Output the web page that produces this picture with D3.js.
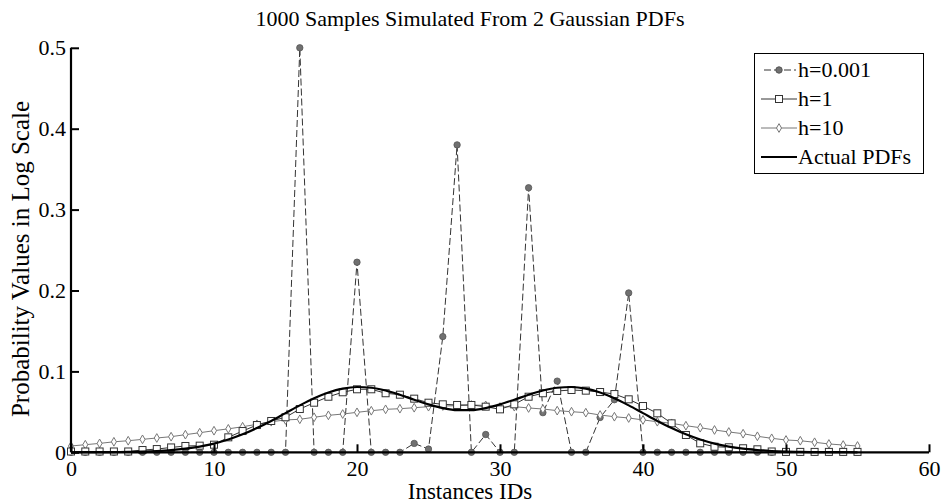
<!DOCTYPE html>
<html><head><meta charset="utf-8">
<script src="https://cdn.jsdelivr.net/npm/d3@7/dist/d3.min.js"></script>
<style>body{margin:0;background:#fff}svg{display:block}text{font-family:"Liberation Serif","Times New Roman","DejaVu Serif",serif !important;fill:#000}</style>
</head><body><svg id="c" width="942" height="504"></svg>
<script>
const title = "1000 Samples Simulated From 2 Gaussian PDFs";
const xLabel = "Instances IDs";
const yLabel = "Probability Values in Log Scale";
const xTicks = [0,10,20,30,40,50,60];
const yTicks = [0,0.1,0.2,0.3,0.4,0.5];
const yTickLabels = ["0","0.1","0.2","0.3","0.4","0.5"];
const ids = d3.range(0,56);
const seriesNames = ["h=0.001","h=1","h=10","Actual PDFs"];
const hSmall = [0,0,0,0,0,0,0,0,0,0,0,0,0,0,0,0,0.5,0,0,0,0.235,0,0,0,0.011,0.004,0.143,0.38,0,0.022,0,0,0.327,0.049,0.088,0,0,0.043,0.065,0.197,0,0,0,0,0,0,0,0,0,0,0,0,0,0,0,0];
const hOne = [0.001,0.001,0.001,0.001,0.001,0.0028,0.004,0.006,0.0078,0.0082,0.0094,0.0185,0.0263,0.0337,0.0387,0.0433,0.0535,0.0613,0.0687,0.0742,0.0779,0.0779,0.073,0.0712,0.0663,0.0613,0.0593,0.0585,0.0585,0.0564,0.0531,0.0593,0.0687,0.073,0.0758,0.077,0.0762,0.0745,0.072,0.0655,0.0572,0.0482,0.0358,0.0214,0.0111,0.0069,0.0062,0.005,0.0037,0.001,0.0005,0.0005,0.0005,0.0005,0.0005,0.0005];
const hTen = [0.0078,0.0094,0.011,0.013,0.0143,0.016,0.0177,0.0193,0.0218,0.0242,0.0267,0.029,0.0316,0.0346,0.0378,0.040,0.0408,0.0433,0.0457,0.0473,0.0494,0.0514,0.0531,0.0539,0.0551,0.0564,0.0572,0.0576,0.0585,0.058,0.056,0.0564,0.0548,0.0535,0.0515,0.0502,0.049,0.0461,0.044,0.0424,0.040,0.0378,0.0358,0.0329,0.0304,0.0276,0.0251,0.023,0.0198,0.0173,0.0152,0.0143,0.0124,0.0103,0.009,0.0078];
const actual = [0,0.0001,0.0001,0.0003,0.0005,0.0009,0.0016,0.0027,0.0045,0.0071,0.0108,0.0158,0.0222,0.030,0.0388,0.0484,0.058,0.0668,0.0739,0.0787,0.0807,0.0798,0.0764,0.0711,0.065,0.0592,0.0546,0.0521,0.0521,0.0546,0.0592,0.065,0.0711,0.0764,0.0798,0.0807,0.0787,0.0739,0.0668,0.058,0.0484,0.0388,0.030,0.0222,0.0158,0.0108,0.0071,0.0045,0.0027,0.0016,0.0009,0.0005,0.0002,0.0001,0.0001,0];

const svg = d3.select("#c");
const x = d3.scaleLinear().domain([0,60]).range([71,929]);
const y = d3.scaleLinear().domain([0,0.5]).range([452.3,47.8]);
const pts = a => ids.map(i => [i, a[i]]);

svg.append("text").attr("x",470).attr("y",26).attr("text-anchor","middle").attr("font-size",22).text(title);

const lin = d3.line().x(d=>x(d[0])).y(d=>y(d[1]));
svg.append("path").datum(pts(hSmall)).attr("d",lin).attr("fill","none").attr("stroke","#333").attr("stroke-width",1).attr("stroke-dasharray","7,3");
svg.append("g").selectAll("circle").data(pts(hSmall)).join("circle")
  .attr("cx",d=>x(d[0])).attr("cy",d=>y(d[1])).attr("r",3.2).attr("fill","#707070").attr("stroke","#555").attr("stroke-width",0.8);

svg.append("path").datum(pts(hTen)).attr("d",lin).attr("fill","none").attr("stroke","#777").attr("stroke-width",1);
const dia = d3.symbol().type(d3.symbolDiamond).size(22);
svg.append("g").selectAll("path").data(pts(hTen)).join("path")
  .attr("d",dia).attr("transform",d=>`translate(${x(d[0])},${y(d[1])})`).attr("fill","#fff").attr("stroke","#777").attr("stroke-width",1);

svg.append("path").datum(pts(hOne)).attr("d",lin).attr("fill","none").attr("stroke","#333").attr("stroke-width",1);
svg.append("g").selectAll("rect").data(pts(hOne)).join("rect")
  .attr("x",d=>x(d[0])-3.5).attr("y",d=>y(d[1])-3.5).attr("width",7).attr("height",7).attr("fill","#fff").attr("stroke","#333").attr("stroke-width",1);

svg.append("path").datum(pts(actual)).attr("d",d3.line().x(d=>x(d[0])).y(d=>y(d[1])).curve(d3.curveMonotoneX)).attr("fill","none").attr("stroke","#000").attr("stroke-width",2.2);

const xAxis = d3.axisBottom(x).tickValues(xTicks).tickSize(-8).tickPadding(16);
const gx = svg.append("g").attr("transform",`translate(0,${y(0)})`).call(xAxis).attr("font-family",null);
gx.select(".domain").attr("stroke","#000").attr("stroke-width",2.2).attr("d",`M${x(0)},0H${x(60)}`);
gx.selectAll(".tick line").attr("stroke","#000").attr("stroke-width",2);
gx.selectAll(".tick text").attr("font-size",22).attr("dy","0.35em");
const yAxis = d3.axisLeft(y).tickValues(yTicks).tickFormat((d,i)=>yTickLabels[i]).tickSize(-8).tickPadding(5);
const gy = svg.append("g").attr("transform",`translate(${x(0)},0)`).call(yAxis).attr("font-family",null);
gy.select(".domain").attr("stroke","#000").attr("stroke-width",2.2).attr("d",`M0,${y(0)}V${y(0.5)}`);
gy.selectAll(".tick line").attr("stroke","#000").attr("stroke-width",2);
gy.selectAll(".tick text").attr("font-size",22);

svg.append("text").attr("x",470).attr("y",499).attr("text-anchor","middle").attr("font-size",23).text(xLabel);
svg.append("text").attr("transform","translate(29,259) rotate(-90)").attr("text-anchor","middle").attr("font-size",25).text(yLabel);

const lg = svg.append("g");
lg.append("rect").attr("x",754.5).attr("y",53.5).attr("width",169).attr("height",120).attr("fill","#fff").attr("stroke","#000").attr("stroke-width",1);
const ly = [70,99,128,157];
lg.append("line").attr("x1",764).attr("x2",796).attr("y1",ly[0]).attr("y2",ly[0]).attr("stroke","#333").attr("stroke-dasharray","7,3");
lg.append("circle").attr("cx",779).attr("cy",ly[0]).attr("r",3.2).attr("fill","#707070").attr("stroke","#555");
lg.append("line").attr("x1",761).attr("x2",797).attr("y1",ly[1]).attr("y2",ly[1]).attr("stroke","#333");
lg.append("rect").attr("x",775.5).attr("y",ly[1]-3.5).attr("width",7).attr("height",7).attr("fill","#fff").attr("stroke","#333");
lg.append("line").attr("x1",761).attr("x2",797).attr("y1",ly[2]).attr("y2",ly[2]).attr("stroke","#777");
lg.append("path").attr("d",dia).attr("transform",`translate(779,${ly[2]})`).attr("fill","#fff").attr("stroke","#777");
lg.append("line").attr("x1",761).attr("x2",797).attr("y1",ly[3]).attr("y2",ly[3]).attr("stroke","#000").attr("stroke-width",2.2);
lg.selectAll("text.l").data(seriesNames).join("text").attr("class","l").attr("x",798).attr("y",(d,i)=>ly[i]+7).attr("font-size",22).text(d=>d);
</script></body></html>
